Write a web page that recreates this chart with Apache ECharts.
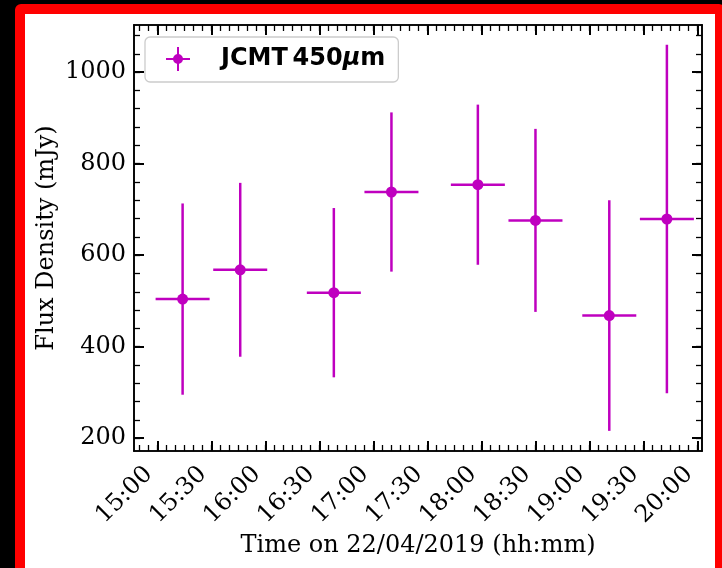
<!DOCTYPE html>
<html>
<head>
<meta charset="utf-8">
<script src="https://cdn.jsdelivr.net/npm/echarts@6/dist/echarts.min.js"></script>
<style>
html, body { margin: 0; padding: 0; background: #000; width: 722px; height: 568px; overflow: hidden; }
#frame { position: absolute; left: 15px; top: 4px; width: 710px; height: 600px; box-sizing: border-box;
  border: 10px solid #ff0000; border-radius: 6px; background: #fff; }
#chart { position: absolute; left: 0; top: 0; width: 722px; height: 568px; }
</style>
</head>
<body>
<div id="frame"></div>
<div id="chart"></div>
<script>
// ---- data ----
const times = ['15:14', '15:46', '16:38', '17:10', '17:58', '18:30', '19:11', '19:43'];
const flux = [504, 568, 518, 738, 754, 676, 468, 679];
const fluxErr = [209, 190, 185, 174, 175, 200, 252, 381];
const timeErr = [15, 15, 15, 15, 15, 15, 15, 15]; // minutes
const xTickLabels = ['15:00', '15:30', '16:00', '16:30', '17:00', '17:30', '18:00', '18:30', '19:00', '19:30', '20:00'];
const yTickValues = [200, 400, 600, 800, 1000];
const seriesName = 'JCMT 450μm';
const xAxisTitle = 'Time on 22/04/2019 (hh:mm)';
const yAxisTitle = 'Flux Density (mJy)';

const toMin = s => { const p = s.split(':'); return (+p[0]) * 60 + (+p[1]); };
const fmt = v => { const h = Math.floor(v / 60), m = Math.round(v - h * 60); return h + ':' + (m < 10 ? '0' : '') + m; };

const xMin = toMin('14:47'), xMax = toMin('20:02') + 0.5;
const yMin = 172, yMax = 1103;
const xMajor = xTickLabels.map(toMin);
const xMinor = []; for (let v = toMin('14:50'); v <= xMax; v += 5) xMinor.push(v);
const yMinor = []; for (let v = 200; v <= yMax; v += 40) yMinor.push(v);

const color = '#bf00bf';
const serif = 'DejaVu Serif';
const lineStyle = { color: '#000', width: 1.6 };

const pts = times.map((t, i) => [toMin(t), flux[i], timeErr[i], fluxErr[i]]);

function xAx(pos, major, showLabel) {
  return {
    type: 'value', position: pos, min: xMin, max: xMax,
    axisLine: { show: true, onZero: false, lineStyle },
    splitLine: { show: false },
    axisTick: { show: true, inside: true, length: major ? 10 : 6, customValues: major ? xMajor : xMinor,
      lineStyle: { color: '#000', width: major ? 2 : 1.3 } },
    axisLabel: showLabel ? {
      show: true, customValues: xMajor, formatter: v => fmt(v), rotate: 45,
      align: 'right', verticalAlign: 'bottom', margin: 28,
      fontFamily: serif, fontSize: 24, color: '#000'
    } : { show: false }
  };
}
function yAx(pos, major, showLabel) {
  return {
    type: 'value', position: pos, min: yMin, max: yMax,
    axisLine: { show: true, onZero: false, lineStyle },
    splitLine: { show: false },
    axisTick: { show: true, inside: true, length: major ? 10 : 6, customValues: major ? yTickValues : yMinor,
      lineStyle: { color: '#000', width: major ? 2 : 1.3 } },
    axisLabel: showLabel ? {
      show: true, customValues: yTickValues, margin: 8, formatter: v => String(v),
      fontFamily: serif, fontSize: 24, color: '#000'
    } : { show: false }
  };
}

const xAxes = [xAx('bottom', true, true), xAx('top', true, false), xAx('bottom', false, false), xAx('top', false, false)];
Object.assign(xAxes[0], { name: xAxisTitle, nameLocation: 'middle', nameGap: 83, nameMoveOverlap: false,
  nameTextStyle: { fontFamily: serif, fontSize: 24, color: '#000' } });
const yAxes = [yAx('left', true, true), yAx('right', true, false), yAx('left', false, false), yAx('right', false, false)];
Object.assign(yAxes[0], { name: yAxisTitle, nameLocation: 'middle', nameGap: 75, nameMoveOverlap: false,
  nameTextStyle: { fontFamily: serif, fontSize: 24, color: '#000' } });

const chart = echarts.init(document.getElementById('chart'), null, { renderer: 'canvas' });
chart.setOption({
  backgroundColor: 'transparent',
  animation: false,
  grid: { left: 134, top: 25, width: 568, height: 426, containLabel: false },
  xAxis: xAxes,
  yAxis: yAxes,
  legend: {
    show: true, left: 145, top: 37,
    padding: [10, 13, 11, 21],
    backgroundColor: '#fff', borderColor: '#cccccc', borderWidth: 1.3, borderRadius: 5,
    itemWidth: 50, itemHeight: 24,
    data: [{ name: seriesName,
      icon: 'path://M0 11H24V13H0Z M11 0H13V24H11Z M17 12A5 5 0 1 1 7 12A5 5 0 1 1 17 12Z M50 12L50 12.01L49.99 12Z' }],
    formatter: () => '{b|JCMT\u2009450}{mu|μ}{b|m}',
    textStyle: {
      fontFamily: 'DejaVu Sans', fontWeight: 'bold', fontSize: 24, color: '#000',
      rich: {
        b: { fontFamily: 'DejaVu Sans', fontWeight: 'bold', fontSize: 24, color: '#000' },
        mu: { fontFamily: 'DejaVu Sans', fontWeight: 'bold', fontStyle: 'italic', fontSize: 24, color: '#000' }
      }
    }
  },
  series: [
    {
      name: 'errors', type: 'custom', xAxisIndex: 0, yAxisIndex: 0,
      data: pts, encode: { x: 0, y: 1 }, z: 3,
      renderItem: (params, api) => {
        const x = api.value(0), y = api.value(1), ex = api.value(2), ey = api.value(3);
        const l = api.coord([x - ex, y]), r = api.coord([x + ex, y]);
        const t = api.coord([x, y + ey]), b = api.coord([x, y - ey]);
        const st = { stroke: color, lineWidth: 2.5 };
        return { type: 'group', children: [
          { type: 'line', shape: { x1: l[0], y1: l[1], x2: r[0], y2: r[1] }, style: st },
          { type: 'line', shape: { x1: t[0], y1: t[1], x2: b[0], y2: b[1] }, style: st }
        ] };
      }
    },
    {
      name: seriesName, type: 'scatter', xAxisIndex: 0, yAxisIndex: 0,
      data: pts.map(p => [p[0], p[1]]), symbol: 'circle', symbolSize: 11, z: 4,
      itemStyle: { color: color, opacity: 1 }
    }
  ]
});
</script>
</body>
</html>
